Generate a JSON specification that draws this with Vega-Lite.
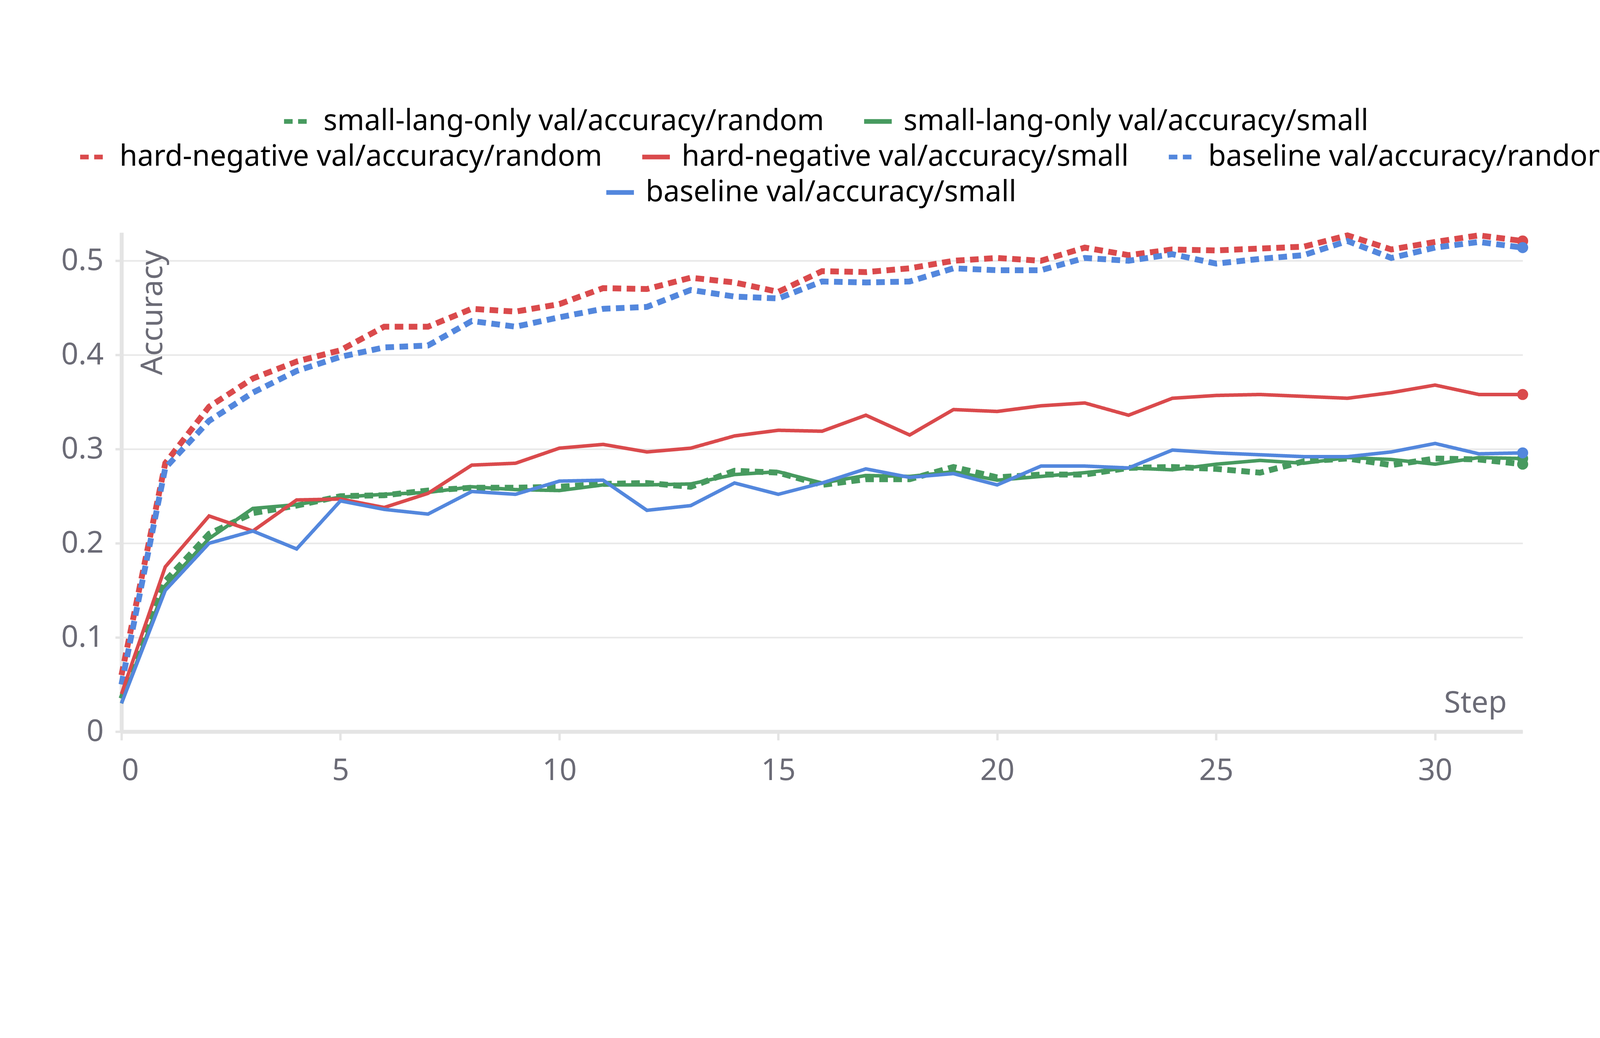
{
  "$schema": "https://vega.github.io/schema/vega-lite/v6.json",
  "autosize": {"type": "none"},
  "width": 3587,
  "height": 1277,
  "padding": {"left": 311, "top": 595, "right": 196, "bottom": 278},
  "background": "#ffffff",
  "title": {
    "text": "val/accuracy",
    "font": "Noto Sans",
    "fontSize": 89,
    "fontWeight": "bold",
    "color": "#333333",
    "offset": 360
  },
  "config": {
    "font": "Noto Sans",
    "view": {"stroke": null},
    "legend": {
      "orient": "none", "direction": "horizontal", "title": null,
      "labelFontSize": 74, "labelLimit": 3000, "labelOffset": 24,
      "symbolType": "stroke", "symbolSize": 5000, "symbolStrokeWidth": 12,
      "columnPadding": 78
    }
  },
  "data": {
    "values": [
      {"step": 0, "hr": 0.06, "hs": 0.04, "br": 0.05, "bs": 0.03, "gr": 0.035, "gs": 0.03},
      {"step": 1, "hr": 0.285, "hs": 0.175, "br": 0.28, "bs": 0.15, "gr": 0.16, "gs": 0.155},
      {"step": 2, "hr": 0.345, "hs": 0.229, "br": 0.33, "bs": 0.2, "gr": 0.21, "gs": 0.205},
      {"step": 3, "hr": 0.375, "hs": 0.213, "br": 0.36, "bs": 0.213, "gr": 0.232, "gs": 0.237},
      {"step": 4, "hr": 0.393, "hs": 0.246, "br": 0.383, "bs": 0.194, "gr": 0.24, "gs": 0.241},
      {"step": 5, "hr": 0.405, "hs": 0.247, "br": 0.398, "bs": 0.245, "gr": 0.25, "gs": 0.249},
      {"step": 6, "hr": 0.43, "hs": 0.238, "br": 0.408, "bs": 0.236, "gr": 0.251, "gs": 0.252},
      {"step": 7, "hr": 0.43, "hs": 0.253, "br": 0.41, "bs": 0.231, "gr": 0.256, "gs": 0.254},
      {"step": 8, "hr": 0.449, "hs": 0.283, "br": 0.436, "bs": 0.255, "gr": 0.259, "gs": 0.26},
      {"step": 9, "hr": 0.446, "hs": 0.285, "br": 0.43, "bs": 0.252, "gr": 0.259, "gs": 0.257},
      {"step": 10, "hr": 0.454, "hs": 0.301, "br": 0.44, "bs": 0.266, "gr": 0.26, "gs": 0.256},
      {"step": 11, "hr": 0.471, "hs": 0.305, "br": 0.449, "bs": 0.267, "gr": 0.263, "gs": 0.262},
      {"step": 12, "hr": 0.47, "hs": 0.297, "br": 0.451, "bs": 0.235, "gr": 0.264, "gs": 0.262},
      {"step": 13, "hr": 0.482, "hs": 0.301, "br": 0.469, "bs": 0.24, "gr": 0.26, "gs": 0.263},
      {"step": 14, "hr": 0.477, "hs": 0.314, "br": 0.462, "bs": 0.264, "gr": 0.277, "gs": 0.273},
      {"step": 15, "hr": 0.467, "hs": 0.32, "br": 0.46, "bs": 0.252, "gr": 0.275, "gs": 0.276},
      {"step": 16, "hr": 0.489, "hs": 0.319, "br": 0.478, "bs": 0.264, "gr": 0.262, "gs": 0.264},
      {"step": 17, "hr": 0.488, "hs": 0.336, "br": 0.477, "bs": 0.279, "gr": 0.268, "gs": 0.272},
      {"step": 18, "hr": 0.492, "hs": 0.315, "br": 0.478, "bs": 0.27, "gr": 0.268, "gs": 0.271},
      {"step": 19, "hr": 0.5, "hs": 0.342, "br": 0.492, "bs": 0.274, "gr": 0.281, "gs": 0.276},
      {"step": 20, "hr": 0.503, "hs": 0.34, "br": 0.49, "bs": 0.262, "gr": 0.27, "gs": 0.267},
      {"step": 21, "hr": 0.5, "hs": 0.346, "br": 0.49, "bs": 0.282, "gr": 0.273, "gs": 0.271},
      {"step": 22, "hr": 0.514, "hs": 0.349, "br": 0.503, "bs": 0.282, "gr": 0.273, "gs": 0.275},
      {"step": 23, "hr": 0.506, "hs": 0.336, "br": 0.5, "bs": 0.28, "gr": 0.28, "gs": 0.28},
      {"step": 24, "hr": 0.512, "hs": 0.354, "br": 0.507, "bs": 0.299, "gr": 0.281, "gs": 0.278},
      {"step": 25, "hr": 0.511, "hs": 0.357, "br": 0.497, "bs": 0.296, "gr": 0.279, "gs": 0.284},
      {"step": 26, "hr": 0.513, "hs": 0.358, "br": 0.502, "bs": 0.294, "gr": 0.275, "gs": 0.288},
      {"step": 27, "hr": 0.515, "hs": 0.356, "br": 0.506, "bs": 0.292, "gr": 0.287, "gs": 0.285},
      {"step": 28, "hr": 0.527, "hs": 0.354, "br": 0.521, "bs": 0.292, "gr": 0.29, "gs": 0.291},
      {"step": 29, "hr": 0.512, "hs": 0.36, "br": 0.503, "bs": 0.297, "gr": 0.283, "gs": 0.289},
      {"step": 30, "hr": 0.52, "hs": 0.368, "br": 0.514, "bs": 0.306, "gr": 0.29, "gs": 0.284},
      {"step": 31, "hr": 0.527, "hs": 0.358, "br": 0.52, "bs": 0.295, "gr": 0.289, "gs": 0.291},
      {"step": 32, "hr": 0.521, "hs": 0.358, "br": 0.514, "bs": 0.296, "gr": 0.284, "gs": 0.29}
    ]
  },
  "transform": [
    {"fold": ["gr", "gs", "hr", "hs", "br", "bs"], "as": ["key", "value"]},
    {"lookup": "key", "from": {"data": {"values": [
      {"key": "gr", "series": "small-lang-only val/accuracy/random", "kind": "random"},
      {"key": "gs", "series": "small-lang-only val/accuracy/small", "kind": "small"},
      {"key": "hr", "series": "hard-negative val/accuracy/random", "kind": "random"},
      {"key": "hs", "series": "hard-negative val/accuracy/small", "kind": "small"},
      {"key": "br", "series": "baseline val/accuracy/random", "kind": "random"},
      {"key": "bs", "series": "baseline val/accuracy/small", "kind": "small"}
    ]}, "key": "key", "fields": ["series", "kind"]}}
  ],
  "encoding": {
    "x": {
      "field": "step", "type": "quantitative",
      "scale": {"domain": [0, 32], "nice": false},
      "axis": {
        "values": [0, 5, 10, 15, 20, 25, 30],
        "title": "Step", "titleFontSize": 77, "titleFontWeight": "normal", "titleColor": "#6b6b76",
        "titleAlign": "right", "titleBaseline": "alphabetic", "titleY": -50, "titleX": 3546,
        "labelFontSize": 77, "labelColor": "#6b6b76", "labelPadding": 40,
        "domainColor": "#e4e4e4", "domainWidth": 10,
        "tickColor": "#e4e4e4", "tickWidth": 6, "tickSize": 22,
        "grid": false
      }
    },
    "y": {
      "field": "value", "type": "quantitative",
      "scale": {"domain": [0, 0.53], "nice": false},
      "axis": {
        "values": [0, 0.1, 0.2, 0.3, 0.4, 0.5],
        "labelExpr": "datum.value == 0 ? '0' : datum.label",
        "title": "Accuracy", "titleFontSize": 77, "titleFontWeight": "normal", "titleColor": "#6b6b76",
        "titleAngle": -90, "titleX": 119, "titleY": 44, "titleAlign": "right", "titleBaseline": "bottom",
        "labelFontSize": 77, "labelColor": "#6b6b76", "labelPadding": 30,
        "domainColor": "#e4e4e4", "domainWidth": 10,
        "tickColor": "#e4e4e4", "tickWidth": 6, "tickSize": 16,
        "gridColor": "#e8e8e8", "gridWidth": 4
      }
    },
    "order": {"field": "step", "type": "quantitative"}
  },
  "layer": [
    {
      "transform": [{"filter": "datum.key == 'gr' || datum.key == 'gs'"}],
      "encoding": {
        "color": {
          "field": "series", "type": "nominal",
          "scale": {"domain": ["small-lang-only val/accuracy/random", "small-lang-only val/accuracy/small"], "range": ["#479a5f", "#479a5f"]},
          "legend": {"legendX": 410, "legendY": -326}
        },
        "strokeDash": {
          "field": "series", "type": "nominal",
          "scale": {"domain": ["small-lang-only val/accuracy/random", "small-lang-only val/accuracy/small"], "range": [[22, 14], [1, 0]]},
          "legend": null
        }
      },
      "layer": [
        {"transform": [{"filter": "datum.kind == 'random'"}], "mark": {"type": "line", "strokeWidth": 15}},
        {"transform": [{"filter": "datum.kind == 'small'"}], "mark": {"type": "line", "strokeWidth": 9}},
        {"transform": [{"filter": "datum.step == 32"}], "mark": {"type": "circle", "size": 800, "opacity": 1}}
      ]
    },
    {
      "transform": [{"filter": "datum.key == 'hr' || datum.key == 'hs' || datum.key == 'br'"}],
      "encoding": {
        "color": {
          "field": "series", "type": "nominal",
          "scale": {"domain": ["hard-negative val/accuracy/random", "hard-negative val/accuracy/small", "baseline val/accuracy/random"], "range": ["#da4a4c", "#da4a4c", "#5387dd"]},
          "legend": {"legendX": -112, "legendY": -235}
        },
        "strokeDash": {
          "field": "series", "type": "nominal",
          "scale": {"domain": ["hard-negative val/accuracy/random", "hard-negative val/accuracy/small", "baseline val/accuracy/random"], "range": [[22, 14], [1, 0], [22, 14]]},
          "legend": null
        }
      },
      "layer": [
        {"transform": [{"filter": "datum.kind == 'random'"}], "mark": {"type": "line", "strokeWidth": 15}},
        {"transform": [{"filter": "datum.kind == 'small'"}], "mark": {"type": "line", "strokeWidth": 9}},
        {"transform": [{"filter": "datum.step == 32"}], "mark": {"type": "circle", "size": 800, "opacity": 1}}
      ]
    },
    {
      "transform": [{"filter": "datum.key == 'bs'"}],
      "encoding": {
        "color": {
          "field": "series", "type": "nominal",
          "scale": {"domain": ["baseline val/accuracy/small"], "range": ["#5387dd"]},
          "legend": {"legendX": 1235, "legendY": -144}
        },
        "strokeDash": {
          "field": "series", "type": "nominal",
          "scale": {"domain": ["baseline val/accuracy/small"], "range": [[1, 0]]},
          "legend": null
        }
      },
      "layer": [
        {"mark": {"type": "line", "strokeWidth": 9}},
        {"transform": [{"filter": "datum.step == 32"}], "mark": {"type": "circle", "size": 800, "opacity": 1}}
      ]
    }
  ],
  "resolve": {
    "scale": {"color": "independent", "strokeDash": "independent"},
    "legend": {"color": "independent", "strokeDash": "independent"}
  }
}
